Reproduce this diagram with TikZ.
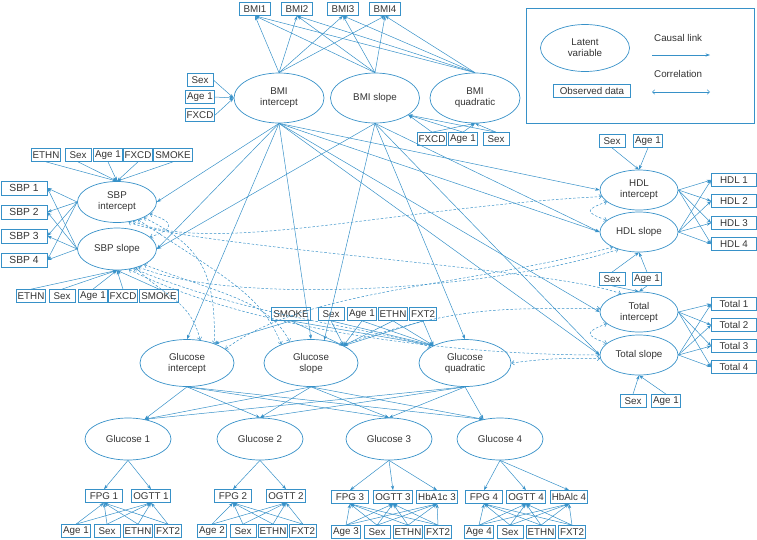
\documentclass[tikz,border=0pt]{standalone}
\usepackage{fontspec}
\setmainfont{Liberation Sans}
\usetikzlibrary{arrows.meta}
\usetikzlibrary{shapes.geometric}
\definecolor{lnk}{RGB}{55,145,200}

\begin{document}
\begin{tikzpicture}[x=1pt,y=1pt,yscale=-1,xscale=1,
  font=\fontsize{9.8}{11}\selectfont, text=black!80,
  obsbox/.style={draw=lnk,line width=0.7pt,inner xsep=1.5pt,inner ysep=1pt,minimum height=13pt,minimum width=26pt},
  latent/.style={draw=lnk,line width=0.7pt,ellipse,inner sep=0pt,align=center},
  cause/.style={draw=lnk,line width=0.5pt,-{Stealth[length=4.5pt,width=3.2pt]}},
  corr/.style={draw=lnk,line width=0.5pt,dash pattern=on 2.5pt off 1.8pt,{Straight Barb[length=2.5pt,width=4.5pt]}-{Straight Barb[length=2.5pt,width=4.5pt]}}]
\useasboundingbox (0,0) rectangle (757,539);

%Legend
\draw [draw=lnk,line width=0.7pt] (526,8) rectangle (754,123);
\node [latent,minimum width=89pt,minimum height=47pt] (legLat) at (585,48) {Latent\\variable};
\node [obsbox,minimum width=77pt] (legObs) at (592,91) {Observed data};
\node [anchor=west,inner sep=0pt] (legCause) at (654,38) {Causal link};
\node [anchor=west,inner sep=0pt] (legCorr) at (654,74) {Correlation};
\coordinate (cauA) at (652,55); \coordinate (cauB) at (710,55);
\coordinate (corA) at (652,92); \coordinate (corB) at (710,92);
\draw [cause] (cauA) -- (cauB);
\draw [corr,solid] (corA) -- (corB);

%BMI block
\node [obsbox,minimum width=31pt] (bmi1) at (255,9) {BMI1};
\node [obsbox,minimum width=31pt] (bmi2) at (297,9) {BMI2};
\node [obsbox,minimum width=31pt] (bmi3) at (343,9) {BMI3};
\node [obsbox,minimum width=31pt] (bmi4) at (385,9) {BMI4};
\node [latent,minimum width=90pt,minimum height=50pt] (bmiI) at (279,98) {BMI\\intercept};
\node [latent,minimum width=89pt,minimum height=50pt] (bmiS) at (375,98) {BMI slope};
\node [latent,minimum width=90pt,minimum height=50pt] (bmiQ) at (475,98) {BMI\\quadratic};
\node [obsbox] (sexB) at (200,80) {Sex};
\node [obsbox] (ageB) at (200,97) {Age 1};
\node [obsbox] (fxB) at (200,115) {FXCD};
\node [obsbox] (fxQ) at (432,139) {FXCD};
\node [obsbox] (ageQ) at (463,139) {Age 1};
\node [obsbox] (sexQ) at (496,139) {Sex};

%SBP block
\node [obsbox,minimum width=46pt,minimum height=14pt,font=\fontsize{10.3}{12}\selectfont] (sbp1) at (24,188) {SBP 1};
\node [obsbox,minimum width=46pt,minimum height=14pt,font=\fontsize{10.3}{12}\selectfont] (sbp2) at (24,212) {SBP 2};
\node [obsbox,minimum width=46pt,minimum height=14pt,font=\fontsize{10.3}{12}\selectfont] (sbp3) at (24,236) {SBP 3};
\node [obsbox,minimum width=46pt,minimum height=14pt,font=\fontsize{10.3}{12}\selectfont] (sbp4) at (24,260) {SBP 4};
\node [latent,minimum width=79pt,minimum height=41pt] (sbpI) at (117,202) {SBP\\intercept};
\node [latent,minimum width=79pt,minimum height=42pt] (sbpS) at (117,249) {SBP slope};
\node [obsbox] (ethT) at (46,155) {ETHN};
\node [obsbox] (sexT) at (78,155) {Sex};
\node [obsbox] (ageT) at (108,155) {Age 1};
\node [obsbox] (fxT) at (138,155) {FXCD};
\node [obsbox] (smT) at (173,155) {SMOKE};
\node [obsbox] (ethS) at (31,296) {ETHN};
\node [obsbox] (sexS) at (62,296) {Sex};
\node [obsbox] (ageS) at (93,296) {Age 1};
\node [obsbox] (fxS) at (123,296) {FXCD};
\node [obsbox] (smS) at (159,296) {SMOKE};

%HDL and Total block
\node [latent,minimum width=78pt,minimum height=40pt] (hdlI) at (639,190) {HDL\\intercept};
\node [latent,minimum width=78pt,minimum height=40pt] (hdlS) at (639,232) {HDL slope};
\node [latent,minimum width=78pt,minimum height=40pt] (totI) at (639,312) {Total\\intercept};
\node [latent,minimum width=78pt,minimum height=40pt] (totS) at (639,355) {Total slope};
\node [obsbox,minimum width=45pt] (hdl1) at (734,180) {HDL 1};
\node [obsbox,minimum width=45pt] (hdl2) at (734,201) {HDL 2};
\node [obsbox,minimum width=45pt] (hdl3) at (734,223) {HDL 3};
\node [obsbox,minimum width=45pt] (hdl4) at (734,244) {HDL 4};
\node [obsbox,minimum width=45pt] (tot1) at (734,304) {Total 1};
\node [obsbox,minimum width=45pt] (tot2) at (734,325) {Total 2};
\node [obsbox,minimum width=45pt] (tot3) at (734,346) {Total 3};
\node [obsbox,minimum width=45pt] (tot4) at (734,367) {Total 4};
\node [obsbox] (sexH) at (612,141) {Sex};
\node [obsbox] (ageH) at (648,141) {Age 1};
\node [obsbox] (sexM) at (612,279) {Sex};
\node [obsbox] (ageM) at (647,279) {Age 1};
\node [obsbox] (sexL) at (633,401) {Sex};
\node [obsbox] (ageL) at (666,401) {Age 1};

%Glucose block
\node [latent,minimum width=94pt,minimum height=47pt] (gluI) at (187,363) {Glucose\\intercept};
\node [latent,minimum width=94pt,minimum height=47pt] (gluS) at (311,363) {Glucose\\slope};
\node [latent,minimum width=92pt,minimum height=47pt] (gluQ) at (465,363) {Glucose\\quadratic};
\node [obsbox] (smG) at (291,314) {SMOKE};
\node [obsbox] (sexG) at (331,314) {Sex};
\node [obsbox] (ageG) at (362,314) {Age 1};
\node [obsbox] (ethG) at (393,314) {ETHN};
\node [obsbox] (fxG) at (423,314) {FXT2};
\node [latent,minimum width=86pt,minimum height=42pt] (glu1) at (128,439) {Glucose 1};
\node [latent,minimum width=86pt,minimum height=42pt] (glu2) at (260,439) {Glucose 2};
\node [latent,minimum width=86pt,minimum height=42pt] (glu3) at (389,439) {Glucose 3};
\node [latent,minimum width=86pt,minimum height=42pt] (glu4) at (500,439) {Glucose 4};
\node [obsbox,minimum width=37pt] (fpg1) at (104,496) {FPG 1};
\node [obsbox,minimum width=37pt] (ogt1) at (151,496) {OGTT 1};
\node [obsbox,minimum width=37pt] (fpg2) at (233,496) {FPG 2};
\node [obsbox,minimum width=37pt] (ogt2) at (286,496) {OGTT 2};
\node [obsbox,minimum width=37pt] (fpg3) at (350,497) {FPG 3};
\node [obsbox,minimum width=37pt] (ogt3) at (393,497) {OGTT 3};
\node [obsbox,minimum width=37pt] (hba3) at (437,497) {HbA1c 3};
\node [obsbox,minimum width=37pt] (fpg4) at (484,497) {FPG 4};
\node [obsbox,minimum width=37pt] (ogt4) at (526,497) {OGTT 4};
\node [obsbox,minimum width=37pt] (hba4) at (569,497) {HbAlc 4};
\node [obsbox] (age1) at (76,531) {Age 1};
\node [obsbox] (sex1) at (107,531) {Sex};
\node [obsbox] (eth1) at (138,531) {ETHN};
\node [obsbox] (fxt1) at (168,531) {FXT2};
\node [obsbox] (age2) at (212,531) {Age 2};
\node [obsbox] (sex2) at (243,531) {Sex};
\node [obsbox] (eth2) at (273,531) {ETHN};
\node [obsbox] (fxt2) at (303,531) {FXT2};
\node [obsbox] (age3) at (346,532) {Age 3};
\node [obsbox] (sex3) at (377,532) {Sex};
\node [obsbox] (eth3) at (408,532) {ETHN};
\node [obsbox] (fxt3) at (438,532) {FXT2};
\node [obsbox] (age4) at (479,532) {Age 4};
\node [obsbox] (sex4) at (510,532) {Sex};
\node [obsbox] (eth4) at (541,532) {ETHN};
\node [obsbox] (fxt4) at (572,532) {FXT2};

%Straight Lines: BMI measurement
\draw [cause] (bmiI.north) -- (bmi1.south); \draw [cause] (bmiI.north) -- (bmi2.south);
\draw [cause] (bmiI.north) -- (bmi3.south); \draw [cause] (bmiI.north) -- (bmi4.south);
\draw [cause] (bmiS.north) -- (bmi1.south); \draw [cause] (bmiS.north) -- (bmi2.south);
\draw [cause] (bmiS.north) -- (bmi3.south); \draw [cause] (bmiS.north) -- (bmi4.south);
\draw [cause] (bmiQ.north) -- (bmi1.south); \draw [cause] (bmiQ.north) -- (bmi2.south);
\draw [cause] (bmiQ.north) -- (bmi3.south); \draw [cause] (bmiQ.north) -- (bmi4.south);
%Straight Lines: BMI covariates
\draw [cause] (sexB.east) -- (bmiI.west); \draw [cause] (ageB.east) -- (bmiI.west);
\draw [cause] (fxB.east) -- (bmiI.west);
\draw [cause] (fxQ.north) -- (bmiS.-27); \draw [cause] (ageQ.north) -- (bmiS.-27);
\draw [cause] (sexQ.north) -- (bmiS.-27);
\draw [cause] (fxQ.north) -- (bmiQ.south); \draw [cause] (ageQ.north) -- (bmiQ.south);
\draw [cause] (sexQ.north) -- (bmiQ.south);

%Straight Lines: SBP measurement
\draw [cause] (sbpI.west) -- (sbp1.east); \draw [cause] (sbpI.west) -- (sbp2.east);
\draw [cause] (sbpI.west) -- (sbp3.east); \draw [cause] (sbpI.west) -- (sbp4.east);
\draw [cause] (sbpS.west) -- (sbp1.east); \draw [cause] (sbpS.west) -- (sbp2.east);
\draw [cause] (sbpS.west) -- (sbp3.east); \draw [cause] (sbpS.west) -- (sbp4.east);
%Straight Lines: SBP covariates
\draw [cause] (ethT.south) -- (sbpI.north); \draw [cause] (sexT.south) -- (sbpI.north);
\draw [cause] (ageT.south) -- (sbpI.north); \draw [cause] (fxT.south) -- (sbpI.north);
\draw [cause] (smT.south) -- (sbpI.north);
\draw [cause] (ethS.north) -- (sbpS.south); \draw [cause] (sexS.north) -- (sbpS.south);
\draw [cause] (ageS.north) -- (sbpS.south); \draw [cause] (fxS.north) -- (sbpS.south);
\draw [cause] (smS.north) -- (sbpS.south);

%Straight Lines: BMI to outcomes
\draw [cause] (bmiI.south) -- (sbpI.east); \draw [cause] (bmiI.south) -- (sbpS.east);
\draw [cause] (bmiI.south) -- (gluI.north); \draw [cause] (bmiI.south) -- (gluS.north);
\draw [cause] (bmiI.south) -- (hdlI.west); \draw [cause] (bmiI.south) -- (hdlS.west);
\draw [cause] (bmiI.south) -- (totI.west); \draw [cause] (bmiI.south) -- (totS.west);
\draw [cause] (bmiS.south) -- (sbpS.east); \draw [cause] (bmiS.south) -- (gluS.60);
\draw [cause] (bmiS.south) -- (gluQ.north); \draw [cause] (bmiS.south) -- (hdlS.west);
\draw [cause] (bmiS.south) -- (totS.west);

%Straight Lines: HDL and Total measurement
\draw [cause] (hdlI.east) -- (hdl1.west); \draw [cause] (hdlI.east) -- (hdl2.west);
\draw [cause] (hdlI.east) -- (hdl3.west); \draw [cause] (hdlI.east) -- (hdl4.west);
\draw [cause] (hdlS.east) -- (hdl1.west); \draw [cause] (hdlS.east) -- (hdl2.west);
\draw [cause] (hdlS.east) -- (hdl3.west); \draw [cause] (hdlS.east) -- (hdl4.west);
\draw [cause] (totI.east) -- (tot1.west); \draw [cause] (totI.east) -- (tot2.west);
\draw [cause] (totI.east) -- (tot3.west); \draw [cause] (totI.east) -- (tot4.west);
\draw [cause] (totS.east) -- (tot1.west); \draw [cause] (totS.east) -- (tot2.west);
\draw [cause] (totS.east) -- (tot3.west); \draw [cause] (totS.east) -- (tot4.west);
%Straight Lines: HDL and Total covariates
\draw [cause] (sexH.south) -- (hdlI.north); \draw [cause] (ageH.south) -- (hdlI.north);
\draw [cause] (sexM.north) -- (hdlS.south); \draw [cause] (ageM.north) -- (hdlS.south);
\draw [cause] (sexM.south) -- (totI.north); \draw [cause] (ageM.south) -- (totI.north);
\draw [cause] (sexL.north) -- (totS.south); \draw [cause] (ageL.north) -- (totS.south);

%Straight Lines: glucose covariates
\draw [cause] (smG.south) -- (gluI.35);
\draw [cause] (smG.south) -- (gluS.28); \draw [cause] (sexG.south) -- (gluS.28);
\draw [cause] (ageG.south) -- (gluS.28); \draw [cause] (ethG.south) -- (gluS.28);
\draw [cause] (fxG.south) -- (gluS.28);
\draw [cause] (smG.south) -- (gluQ.151); \draw [cause] (sexG.south) -- (gluQ.151);
\draw [cause] (ageG.south) -- (gluQ.151); \draw [cause] (ethG.south) -- (gluQ.151);
\draw [cause] (fxG.south) -- (gluQ.151);
%Straight Lines: growth factors to glucose
\draw [cause] (gluI.south) -- (glu1.50); \draw [cause] (gluI.south) -- (glu2.north);
\draw [cause] (gluI.south) -- (glu3.north); \draw [cause] (gluI.south) -- (glu4.130);
\draw [cause] (gluS.south) -- (glu1.50); \draw [cause] (gluS.south) -- (glu2.north);
\draw [cause] (gluS.south) -- (glu3.north); \draw [cause] (gluS.south) -- (glu4.130);
\draw [cause] (gluQ.south) -- (glu1.50); \draw [cause] (gluQ.south) -- (glu2.north);
\draw [cause] (gluQ.south) -- (glu3.north); \draw [cause] (gluQ.south) -- (glu4.130);
%Straight Lines: glucose measurement
\draw [cause] (glu1.south) -- (fpg1.north); \draw [cause] (glu1.south) -- (ogt1.north);
\draw [cause] (glu2.south) -- (fpg2.north); \draw [cause] (glu2.south) -- (ogt2.north);
\draw [cause] (glu3.south) -- (fpg3.north); \draw [cause] (glu3.south) -- (ogt3.north);
\draw [cause] (glu3.south) -- (hba3.north);
\draw [cause] (glu4.south) -- (fpg4.north); \draw [cause] (glu4.south) -- (ogt4.north);
\draw [cause] (glu4.south) -- (hba4.north);
%Straight Lines: measurement covariates
\draw [cause] (age1.north) -- (fpg1.south); \draw [cause] (sex1.north) -- (fpg1.south);
\draw [cause] (eth1.north) -- (fpg1.south); \draw [cause] (fxt1.north) -- (fpg1.south);
\draw [cause] (age1.north) -- (ogt1.south); \draw [cause] (sex1.north) -- (ogt1.south);
\draw [cause] (eth1.north) -- (ogt1.south); \draw [cause] (fxt1.north) -- (ogt1.south);
\draw [cause] (age2.north) -- (fpg2.south); \draw [cause] (sex2.north) -- (fpg2.south);
\draw [cause] (eth2.north) -- (fpg2.south); \draw [cause] (fxt2.north) -- (fpg2.south);
\draw [cause] (age2.north) -- (ogt2.south); \draw [cause] (sex2.north) -- (ogt2.south);
\draw [cause] (eth2.north) -- (ogt2.south); \draw [cause] (fxt2.north) -- (ogt2.south);
\draw [cause] (age3.north) -- (fpg3.south); \draw [cause] (sex3.north) -- (fpg3.south);
\draw [cause] (eth3.north) -- (fpg3.south); \draw [cause] (fxt3.north) -- (fpg3.south);
\draw [cause] (age3.north) -- (ogt3.south); \draw [cause] (sex3.north) -- (ogt3.south);
\draw [cause] (eth3.north) -- (ogt3.south); \draw [cause] (fxt3.north) -- (ogt3.south);
\draw [cause] (age3.north) -- (hba3.south); \draw [cause] (sex3.north) -- (hba3.south);
\draw [cause] (eth3.north) -- (hba3.south); \draw [cause] (fxt3.north) -- (hba3.south);
\draw [cause] (age4.north) -- (fpg4.south); \draw [cause] (sex4.north) -- (fpg4.south);
\draw [cause] (eth4.north) -- (fpg4.south); \draw [cause] (fxt4.north) -- (fpg4.south);
\draw [cause] (age4.north) -- (ogt4.south); \draw [cause] (sex4.north) -- (ogt4.south);
\draw [cause] (eth4.north) -- (ogt4.south); \draw [cause] (fxt4.north) -- (ogt4.south);
\draw [cause] (age4.north) -- (hba4.south); \draw [cause] (sex4.north) -- (hba4.south);
\draw [cause] (eth4.north) -- (hba4.south); \draw [cause] (fxt4.north) -- (hba4.south);

%Curve Lines: correlations
\draw [corr] (sbpI.-20) .. controls +(25,8) and +(25,-8) .. (sbpS.20);
\draw [corr] (hdlI.200) .. controls +(-22,8) and +(-22,-8) .. (hdlS.160);
\draw [corr] (totI.200) .. controls +(-22,8) and +(-22,-8) .. (totS.160);
\draw [corr] (sbpI.-50) .. controls +(80,35) and +(-200,10) .. (hdlI.190);
\draw [corr] (sbpI.-60) .. controls +(60,25) and +(-60,-25) .. (totI.135);
\draw [corr] (sbpS.-40) .. controls +(100,40) and +(-120,40) .. (hdlS.220);
\draw [corr] (sbpS.-60) .. controls +(120,60) and +(-150,0) .. (totS.west);
\draw [corr] (sbpI.-30) .. controls +(60,30) and +(0,-70) .. (gluI.35);
\draw [corr] (sbpS.-45) .. controls +(30,30) and +(-10,-40) .. (gluI.60);
\draw [corr] (sbpI.-40) .. controls +(90,60) and +(-20,-50) .. (gluS.148);
\draw [corr] (sbpS.-30) .. controls +(80,30) and +(-20,-40) .. (gluS.135);
\draw [corr] (sbpS.-50) .. controls +(120,50) and +(-60,-20) .. (gluQ.155);
\draw [corr] (gluI.20) .. controls +(80,-60) and +(-150,40) .. (hdlS.210);
\draw [corr] (gluS.30) .. controls +(120,-40) and +(-100,0) .. (totI.175);
\draw [corr] (gluQ.east) .. controls +(40,-5) and +(-40,0) .. (totS.185);

\end{tikzpicture}
\end{document}
